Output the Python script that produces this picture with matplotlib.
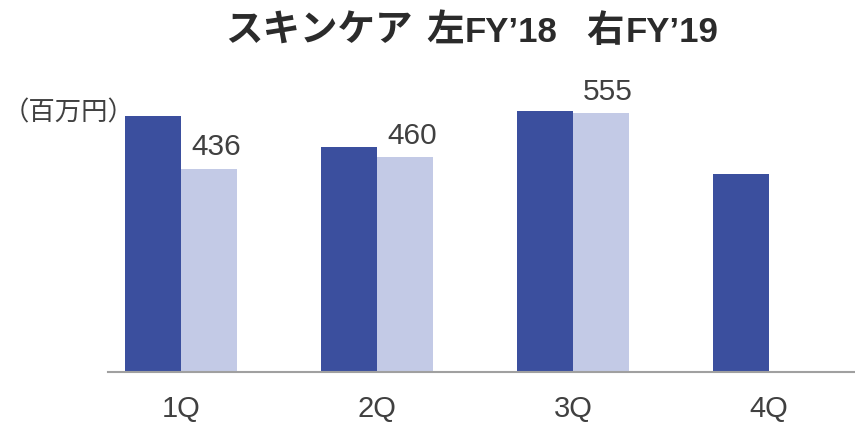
import numpy as np
import matplotlib
matplotlib.use("Agg")
import matplotlib.pyplot as plt

# データ
quarters = ["1Q", "2Q", "3Q", "4Q"]
fy18 = [549, 483, 560, 424]
fy19 = [436, 460, 555, None]
fy19_labels = ["436", "460", "555"]

DARK = "#3B4F9E"
LIGHT = "#C3CAE6"
TEXT = "#404040"
TITLE = "#2B2B2B"

plt.rcParams['font.family'] = ['Liberation Sans', 'Noto Sans CJK JP', 'DejaVu Sans']

fig = plt.figure(figsize=(8.55, 4.23), dpi=100)
ax = fig.add_axes([0.1263, 0.1217, 0.8737, 0.7045])

x = np.arange(len(quarters))
w = 0.2857

ax.bar(x - w / 2, fy18, width=w, color=DARK, zorder=2)
x19 = [i for i, v in enumerate(fy19) if v is not None]
v19 = [v for v in fy19 if v is not None]
ax.bar(np.array(x19) + w / 2, v19, width=w, color=LIGHT, zorder=2)

# 数値ラベル
for xi, v, lab in zip(x19, v19, fy19_labels):
    ax.text(xi + w / 2 + 0.036, v + 28, lab, ha="center", va="baseline",
            fontsize=21.5, color=TEXT)

ax.set_xlim(-0.372, 3.439)
ax.set_ylim(0, 640)
ax.set_xticks(x)
ax.set_xticklabels(quarters, fontsize=21, color=TEXT)
ax.tick_params(axis="x", length=0, pad=17)
ax.set_yticks([])
for s in ["top", "right", "left"]:
    ax.spines[s].set_visible(False)
ax.spines["bottom"].set_color("#A0A0A0")
ax.spines["bottom"].set_linewidth(1.5)

# タイトル（和文と欧文でサイズが違うので分けて並べる）
title_parts = [("スキンケア", 27, 0), ("左", 27, 14), ("FY\u201918", 25, 1),
               ("右", 27, 28), ("FY\u201919", 25, 2)]
renderer = fig.canvas.get_renderer()
x_px = 225
for txt, size, gap in title_parts:
    t = fig.text((x_px + gap) / 855, 0.9007, txt, ha="left", va="baseline",
                 fontsize=size, fontweight="bold", color=TITLE)
    x_px = t.get_window_extent(renderer).x1

fig.text(0.003, 0.733, "（百万円）", ha="left", va="center",
         fontsize=19, color=TEXT, family=['Noto Sans CJK JP'])

fig.savefig("out.png", dpi=100)
